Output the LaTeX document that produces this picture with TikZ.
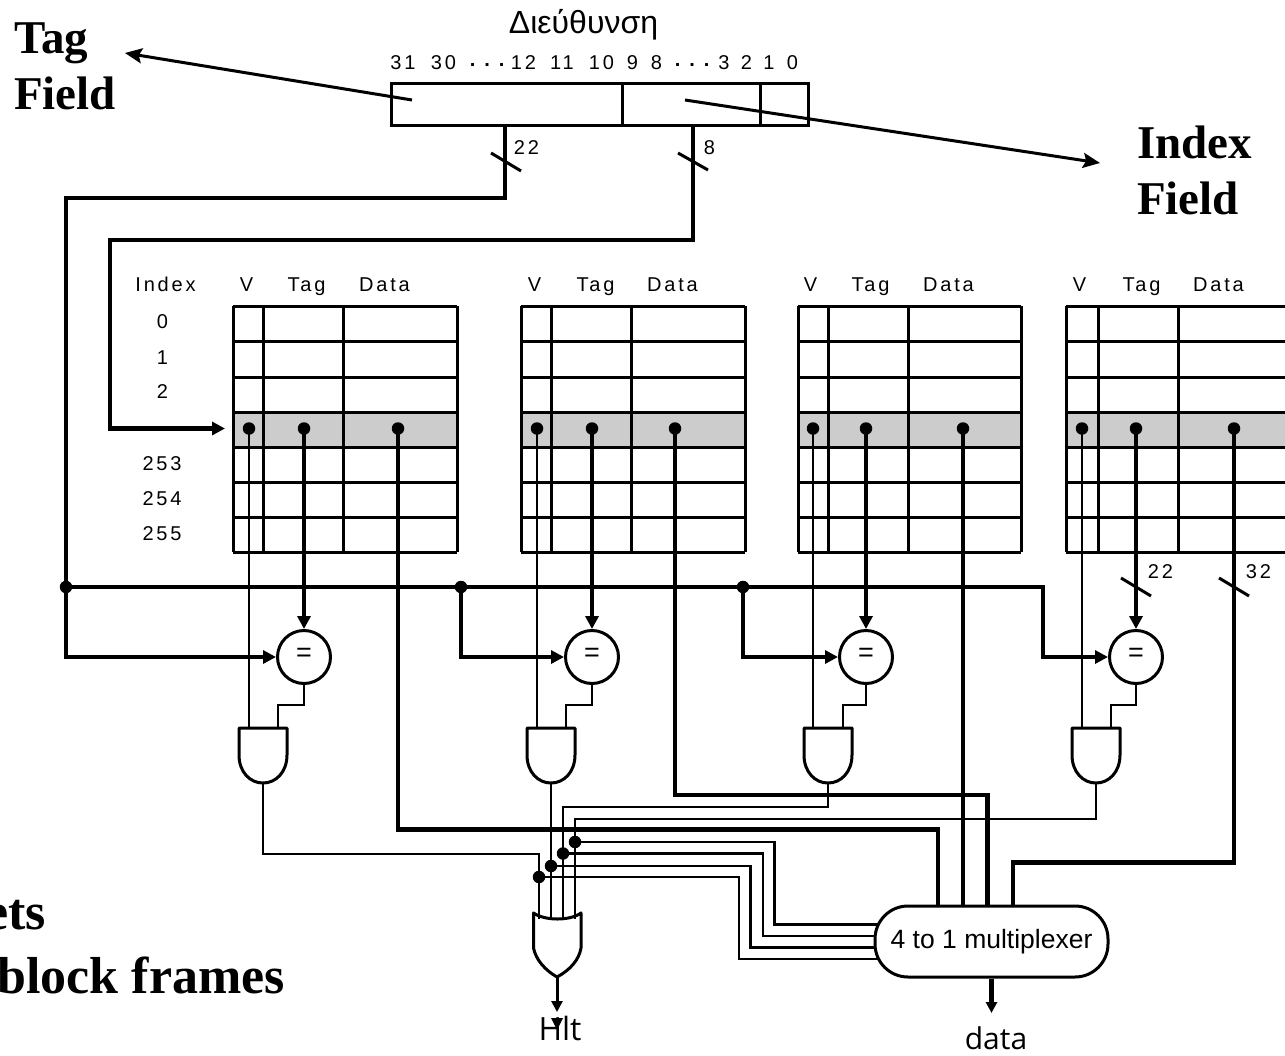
\documentclass[tikz,border=0pt]{standalone}
\usepackage{fontspec}
\setmainfont{Liberation Sans}
\newfontfamily\lblfont[LetterSpace=14]{Liberation Sans}
\newfontfamily\headfont{Liberation Serif}
\newfontfamily\handfont{Open Sans}
\usetikzlibrary{arrows.meta,calc,backgrounds}
\definecolor{rowgray}{RGB}{204,204,204}
\tikzset{
  thk/.style={line width=4.8pt},
  busln/.style={line width=4.2pt},
  med/.style={line width=3pt},
  thn/.style={line width=2.7pt},
  tip/.style={-{Triangle[length=13pt,width=13pt]}},
  longtip/.style={-{Stealth[length=17pt,width=15pt,inset=3pt]}},
  smalltip/.style={-{Triangle[length=11pt,width=11pt]}},
  lbl/.style={font=\lblfont\fontsize{20}{20}\selectfont,anchor=base,inner sep=0pt,xshift=-1.5pt},
  big/.style={font=\headfont\bfseries\fontsize{47}{50}\selectfont,anchor=base west,inner sep=0pt},
  bigger/.style={font=\headfont\bfseries\fontsize{52}{54}\selectfont,anchor=base east,inner sep=0pt},
  hand/.style={font=\handfont,anchor=base,inner sep=0pt},
  dotn/.style={circle,fill=black,inner sep=0pt,minimum size=12.5pt},
  cmpn/.style={circle,draw,line width=3pt,fill=white,inner sep=0pt,minimum size=53pt,font=\fontsize{27}{27}\selectfont},
  gaten/.style={line width=3pt,fill=white,line join=round},
}
\begin{document}
\begin{tikzpicture}[x=1pt,y=-1pt]
\useasboundingbox (0,0) rectangle (1285,1055);
\clip (0,0) rectangle (1285,1055);
% ---------- headings
\node[big] (tagh) at (14,53) {Tag};
\node[big] (tagf) at (14,109) {Field};
\node[big] (idxh) at (1137,158) {Index};
\node[big] (idxf) at (1137,214) {Field};
\node[bigger] (sets) at (46,929) {ets};
\node[bigger] (frames) at (285,993) {block frames};
% ---------- address
\node[font=\fontsize{32}{32}\selectfont,anchor=base,inner sep=0pt] (addrt) at (583.5,33) {Διεύθυνση};
\foreach \x/\t [count=\i] in {404.5/31,445/30,525/12,563.5/11,603/10,634/9,658/8,725.5/3,748/2,770.5/1,794/0}
  \node[lbl] (bit\i) at (\x,69) {\t};
\node[lbl] (dotsa) at (490,69) {\raisebox{3pt}{\textbf{.\hspace{9pt}.\hspace{9pt}.}}};
\node[lbl] (dotsb) at (695,69) {\raisebox{3pt}{\textbf{.\hspace{9pt}.\hspace{9pt}.}}};
\node[draw,med,minimum width=417pt,minimum height=42pt,inner sep=0pt,outer sep=0pt,anchor=north west] (addr) at (391,83) {};
\draw[med] (622.5,83) -- (622.5,125);
\draw[med] (760,83) -- (760,125);
\coordinate (tagin) at (412,100);
\coordinate (tagtip) at (125,53);
\coordinate (idxin) at (685,100);
\coordinate (idxtip) at (1100,163);
\draw[med,longtip] (tagin) -- (tagtip);
\draw[med,longtip] (idxin) -- (idxtip);
% ---------- tag / index buses
\coordinate (tagout) at (505,125);
\coordinate (idxout) at (693,125);
\coordinate (busL) at (66,587);
\draw[med] (491,153) -- (521,171);
\draw[med] (678,153) -- (708,170);
\node[lbl] (n22a) at (528,154) {22};
\node[lbl] (n8) at (711,154) {8};
% ---------- row labels
\node[lbl] (hidx) at (167,291) {Index};
\foreach \y/\t [count=\i] in {328/0,364/1,398/2}
  \node[lbl] (ra\i) at (164,\y) {\t};
\foreach \y/\t [count=\i] in {470/253,505/254,540/255}
  \node[lbl] (rb\i) at (163.5,\y) {\t};
% ---------- four ways
\foreach \xa/\xb/\xc/\xd/\vd/\td/\dd/\gc/\gi/\hv/\ht/\hd [count=\i] in {
  233/263/343/457/249/304/398/263/278/248/308/386,
  521/551/631/745/537/592/675/551/566/536/597/674,
  798/828/908/1021/813/866/963/828/843/812/872/950,
  1066/1098/1178/1295/1082/1136/1234/1096/1111/1081/1143/1220}{
  \fill[rowgray] (\xa,412) rectangle (\xd,447);
  \foreach \y in {306,341,377,412,447,482,517,552}
    \draw[med] (\xa,\y) -- (\xd,\y);
  \foreach \x in {\xa,\xb,\xc,\xd}
    \draw[med] (\x,306) -- (\x,552);
  \node[lbl] (hv\i) at (\hv,291) {V};
  \node[lbl] (ht\i) at (\ht,291) {Tag};
  \node[lbl] (hd\i) at (\hd,291) {Data};
  \node[dotn] (dotv\i) at (\vd,428.5) {};
  \node[dotn] (dott\i) at (\td,428.5) {};
  \node[dotn] (dotd\i) at (\dd,428.5) {};
  \node[cmpn] (cmp\i) at (\td,657) {\raisebox{-8pt}{=}};
  \coordinate (gt\i) at (\gc,728);
  \coordinate (gb\i) at (\gc,783);
  \coordinate (gi\i) at (\gi,728);
  \draw[thn] (dotv\i.center) -- (dotv\i.center |- gt\i);
  \draw[thk,tip] (dott\i.center) -- (cmp\i.north);
  \draw[thn] (cmp\i.south) -- (\td,705) -- (\gi,705) -- (gi\i);
  \draw[gaten] (\gc-24,728) -- (\gc+24,728) -- (\gc+24,755)
     .. controls (\gc+24,772) and (\gc+13,783) .. (\gc,783)
     .. controls (\gc-13,783) and (\gc-24,772) .. (\gc-24,755) -- cycle;
}
% ---------- horizontal bus and tag inputs
\coordinate (rowin) at (225,428.5);
\draw[thk] (tagout) -- (505,198) -- (66,198) -- (busL);
\draw[thk,tip] (busL) -- (66,657) -- (cmp1.west);
\draw[thk,tip] (idxout) -- (693,240) -- (110,240) -- (110,428.5) -- (rowin);
\node[dotn] (j1) at (66,587) {};
\node[dotn] (j2) at (461,587) {};
\node[dotn] (j3) at (743,587) {};
\draw[busln,tip] (j1.center) -- (1043,587) -- (1043,657) -- (cmp4.west);
\draw[thk,tip] (j2.center) -- (461,657) -- (cmp2.west);
\draw[thk,tip] (j3.center) -- (743,657) -- (cmp3.west);
% ---------- width ticks
\draw[med] (1121,578) -- (1151,596);
\draw[med] (1219,578) -- (1249,596);
\node[lbl] (n22b) at (1162,578) {22};
\node[lbl] (n32) at (1260,578) {32};
% ---------- multiplexer
\node[draw,med,fill=white,rounded corners=33pt,minimum width=233pt,minimum height=71pt,inner sep=0pt,font=\fontsize{26.5}{27}\selectfont] (mux) at (991.5,941.5) {\raisebox{1pt}{4 to 1 multiplexer}};
\draw[thk] (dotd1.center) -- (398,829.5) -- (938,829.5) -- (938,0 |- mux.north);
\draw[thk] (dotd2.center) -- (675,795) -- (987.5,795) -- (987.5,0 |- mux.north);
\draw[thk] (dotd3.center) -- (963,0 |- mux.north);
\draw[thk] (dotd4.center) -- (1234,862.5) -- (1013,862.5) -- (1013,0 |- mux.north);
% ---------- OR gate and hit logic
\coordinate (ortip) at (557,977);
\draw[thn] (gb1) -- (263,854) -- (539,854) -- (539,919);
\draw[thn] (gb2) -- (551,920);
\draw[thn] (gb3) -- (828,807) -- (563,807) -- (563,920);
\draw[thn] (gb4) -- (1096,819) -- (575,819) -- (575,919);
\node[dotn] (o1) at (539,877) {};
\node[dotn] (o2) at (551,866) {};
\node[dotn] (o3) at (563,853.5) {};
\node[dotn] (o4) at (575,842) {};
\begin{scope}[on background layer]
\draw[thn] (o1.center) -- (739,877) -- (739,959) -- ($(mux.west |- 0,959)+(12,0)$);
\draw[thn] (o2.center) -- (750.5,866) -- (750.5,947.5) -- ($(mux.west |- 0,947.5)+(12,0)$);
\draw[thn] (o3.center) -- (763,853.5) -- (763,936) -- ($(mux.west |- 0,936)+(12,0)$);
\draw[thn] (o4.center) -- (774.5,842) -- (774.5,924.5) -- ($(mux.west |- 0,924.5)+(12,0)$);
\end{scope}
\draw[med,line join=round] (533.5,913) .. controls (545,921) and (570,921) .. (581,913)
   -- (581,948) .. controls (579,960) and (570,970) .. (ortip)
   .. controls (545,970) and (536,960) .. (533.5,948) -- cycle;
\node[hand,font=\handfont\fontsize{32}{32}\selectfont] (hlt) at (560,1040) {Hlt};
\coordinate (hlttop) at (557,1012);
\draw[med,smalltip] (ortip) -- (hlttop);
\fill (551,1018) -- (563,1018) -- (557,1030) -- cycle;
\node[hand,font=\handfont\fontsize{30}{30}\selectfont] (datan) at (996,1049) {data};
\coordinate (datatop) at (991.5,1013);
\draw[thk,smalltip] (mux.south) -- (datatop);
\end{tikzpicture}
\end{document}
